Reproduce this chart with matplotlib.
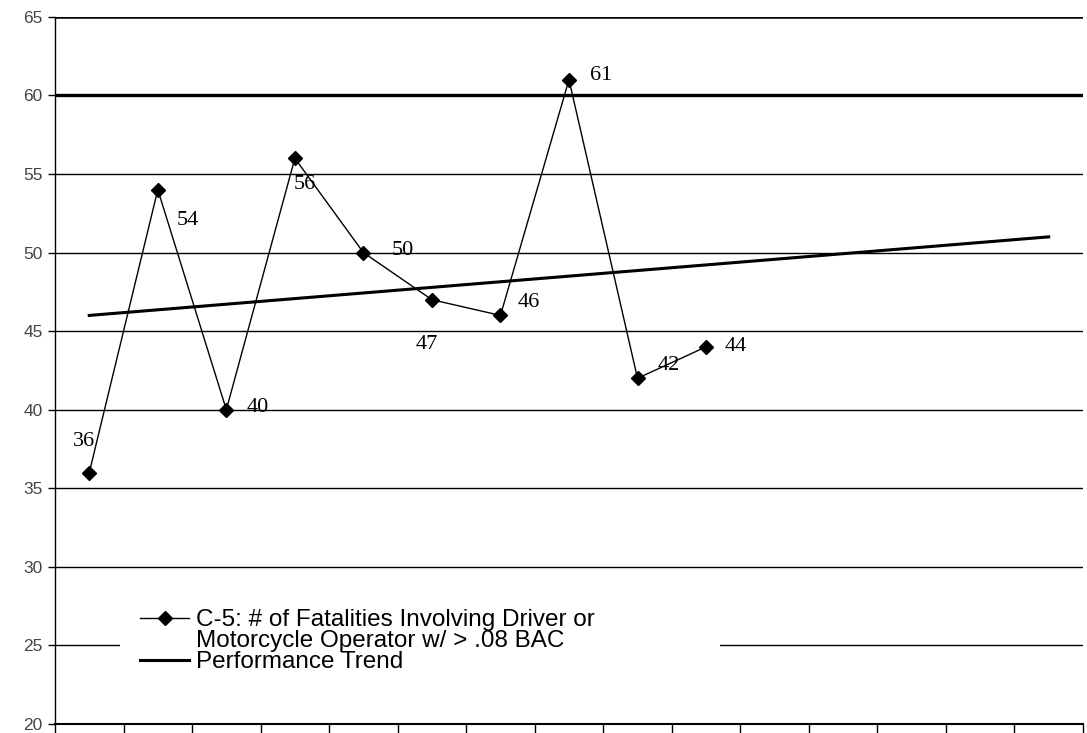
import matplotlib
matplotlib.use('Agg')
import matplotlib.pyplot as plt
import matplotlib.patches as patches

# data
values = [36, 54, 40, 56, 50, 47, 46, 61, 42, 44]
n_slots = 15
trend_x = [0, 14]
trend_y = [46, 51]
y_ticks = [20, 25, 30, 35, 40, 45, 50, 55, 60, 65]
series_label = "C-5: # of Fatalities Involving Driver or"
series_label2 = "Motorcycle Operator w/ > .08 BAC"
trend_label = "Performance Trend"

# label offsets (pixels) for each point
label_offsets = [(-5, 31), (30, -31), (31, 2), (10, -26), (39, 2),
                 (-5, -45), (28, 13), (32, 4), (31, 13), (30, 0)]

fig = plt.figure(figsize=(10.87, 7.33), dpi=100)
ax = fig.add_axes([0.0506, 0.0123, 0.9457, 0.9647])

xs = list(range(len(values)))
ax.plot(xs, values, color='black', lw=1.0, marker='D', markersize=7,
        label=series_label, zorder=4)
ax.plot([], [], color='none', label=series_label2)
ax.plot(trend_x, trend_y, color='black', lw=2.2, label=trend_label, zorder=3)

for x, v, off in zip(xs, values, label_offsets):
    ax.annotate(str(v), (x, v), xytext=off, textcoords='offset pixels',
                ha='center', va='center', fontsize=16,
                family=['Liberation Serif', 'DejaVu Serif'], zorder=5)

ax.set_xlim(-0.5, n_slots - 0.5)
ax.set_ylim(20, 65)
ax.set_yticks(y_ticks)
ax.set_xticks([i - 0.5 for i in range(n_slots + 1)])
ax.set_xticklabels([])
ax.tick_params(axis='y', length=5, width=1, labelsize=12.5, labelcolor='#444444', pad=4)
ax.tick_params(axis='x', length=9, width=1, direction='out')
for lab in ax.get_yticklabels():
    lab.set_family(['Liberation Sans', 'DejaVu Sans'])

ax.set_axisbelow(True)
ax.yaxis.grid(True, color='black', lw=1.0)
gl = ax.yaxis.get_gridlines()
gl[8].set_linewidth(2.4)
gl[9].set_linewidth(1.8)

ax.spines['right'].set_visible(False)
ax.spines['top'].set_visible(False)
ax.spines['left'].set_linewidth(1.0)
ax.spines['bottom'].set_linewidth(1.5)

# white box behind the legend hides the 25 gridline there
ax.add_patch(patches.Rectangle((0.063, 0.09), 0.584, 0.04, transform=ax.transAxes,
                               facecolor='white', edgecolor='none', zorder=1))

leg = ax.legend(loc='lower left', bbox_to_anchor=(0.083, 0.072), frameon=False,
                borderpad=0, borderaxespad=0,
                handlelength=2.0, handletextpad=0.3, labelspacing=-0.05,
                prop={'family': ['Liberation Sans', 'DejaVu Sans'], 'size': 17.5})

fig.savefig('out.png', dpi=100)
